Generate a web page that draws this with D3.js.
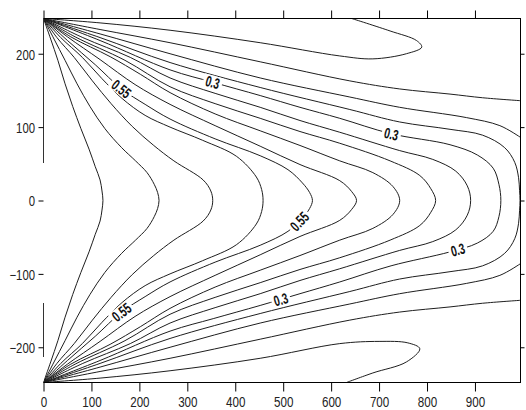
<!DOCTYPE html>
<html>
<head>
<meta charset="utf-8">
<script src="https://cdn.jsdelivr.net/npm/d3@7"></script>
<style>
  body { margin: 0; background: #fff; }
  svg { display: block; }
</style>
</head>
<body>
<div id="chart"></div>
<script>
// tick values
const xTicks = [0, 100, 200, 300, 400, 500, 600, 700, 800, 900];
const yTicks = [-200, -100, 0, 100, 200];

// contour lines, [x, y] in data units
const c075 = [[0,248],[15,220],[30,191],[45,159],[61,128],[78,98],[95,70],[108,46],[118,28],[122,13],[124,0],
  [122,-13],[118,-28],[108,-46],[95,-70],[78,-98],[61,-128],[45,-159],[30,-191],[15,-220],[0,-248]];
const c070 = [[0,248],[22,220],[45,191],[70,159],[97,128],[128,98],[163,72],[192,54],[216,38],[231,22],[238,11],[241,0],
  [238,-11],[231,-22],[216,-38],[192,-54],[163,-72],[128,-98],[97,-128],[70,-159],[45,-191],[22,-220],[0,-248]];
const c065 = [[0,248],[28,222],[64,195],[102,163],[141,132],[185,101],[230,75],[272,54],[333,28],[349,13],[353,0],
  [349,-13],[333,-28],[272,-54],[230,-75],[185,-101],[141,-132],[102,-163],[64,-195],[28,-222],[0,-248]];
const c060 = [[0,248],[36,222],[81,195],[122,166],[164,139],[212,116],[264,100],[332,82],[403,60],[444,32],[455,15],[458,0],
  [455,-15],[444,-32],[403,-60],[332,-82],[264,-100],[212,-116],[164,-139],[122,-166],[81,-195],[36,-222],[0,-248]];
const c055 = [[0,248],[50,218],[108,185],[163,152],[212,131],[264,111],[358,84],[452,61],[510,42],[540,24],[555,11],[561,0],
  [555,-11],[540,-24],[510,-42],[452,-61],[358,-84],[264,-111],[212,-131],[163,-152],[108,-185],[50,-218],[0,-248]];
const c050 = [[0,248],[50,223],[118,192],[191,158],[264,131],[358,102],[452,74],[535,49],[618,27],[643,12],[653,0],
  [643,-12],[618,-27],[535,-49],[452,-74],[358,-102],[264,-131],[191,-158],[118,-192],[50,-223],[0,-248]];
const c045 = [[0,248],[57,223],[139,196],[202,172],[264,147],[358,118],[452,95],[535,75],[618,54],[687,38],[729,19],[743,0],
  [729,-19],[687,-38],[618,-54],[535,-75],[452,-95],[358,-118],[264,-147],[202,-172],[139,-196],[57,-223],[0,-248]];
const c040 = [[0,248],[66,223],[170,191],[264,155],[358,132],[452,112],[535,94],[618,78],[723,54],[785,34],[808,16],[818,0],
  [808,-16],[785,-34],[723,-54],[618,-78],[535,-94],[452,-112],[358,-132],[264,-155],[170,-191],[66,-223],[0,-248]];
const c035 = [[0,248],[82,222],[181,195],[264,167],[358,146],[452,127],[535,109],[618,93],[743,68],[812,56],[860,40],[884,20],[891,0],
  [884,-20],[860,-40],[812,-56],[743,-68],[618,-93],[535,-109],[452,-127],[358,-146],[264,-167],[181,-195],[82,-222],[0,-248]];
const c030 = [[0,248],[118,218],[264,178],[354,161],[452,143],[535,127],[618,112],[725,91],[848,76],[905,62],[938,44],[950,22],[954,0],
  [950,-22],[938,-42],[905,-58],[848,-70],[725,-89],[618,-111],[535,-127],[452,-143],[354,-161],[264,-178],[118,-218],[0,-248]];
const c025 = [[0,248],[118,222],[264,188],[452,154],[639,124],[743,107],[848,97],[916,89],[962,72],[983,52],[991,31],[993,14],[994,0],
  [993,-14],[991,-31],[983,-52],[962,-72],[916,-89],[848,-97],[743,-107],[639,-124],[452,-154],[264,-188],[118,-222],[0,-248]];
const c020top = [[0,248],[118,227],[264,200],[452,167],[639,141],[743,127],[882,113],[952,102],[995,86]];
const c020bot = [[0,-248],[118,-227],[264,-200],[452,-167],[639,-141],[743,-127],[882,-113],[952,-102],[995,-86]];
const c015top = [[0,248],[118,233],[264,215],[452,189],[639,163],[743,152],[848,145],[916,140],[995,136]];
const c015bot = [[0,-248],[118,-233],[264,-215],[452,-189],[639,-163],[743,-152],[848,-145],[916,-140],[995,-136]];
const c010top = [[0,248],[118,242],[264,232],[452,215],[618,197],[687,193],[757,200],[789,209],[778,218],[723,231],[643,248]];
const c010bot = [[0,-248],[118,-242],[264,-232],[452,-215],[618,-195],[700,-192],[760,-194],[785,-202],[757,-220],[687,-235],[632,-248]];

// contour labels: text and where it sits
const labelText = ["0.55", "0.3", "0.3", "0.55", "0.55", "0.3", "0.3"];
const labelX = [163, 353, 725, 528, 163, 493, 864];
const labelY = [152, 161, 91, -24, -153, -131, -64];

// parts of the left edge that show in the picture
const leftEdge = [[248, 51], [-140, -213]];

const contours = [c075, c070, c065, c060, c055, c050, c045, c040, c035, c030, c025,
  c020top, c020bot, c015top, c015bot, c010top, c010bot];

const W = 526, H = 410;
const font = "'Liberation Sans', Arial, sans-serif";
const svg = d3.select("#chart").append("svg")
    .attr("width", W)
    .attr("height", H);

const x = d3.scaleLinear().domain([0, 995]).range([43.5, 520.5]);
const y = d3.scaleLinear().domain([-248, 248]).range([382.5, 18.5]);

svg.append("defs").append("clipPath").attr("id", "plot")
  .append("rect")
    .attr("x", x(0)).attr("y", y(248))
    .attr("width", x(995) - x(0)).attr("height", y(-248) - y(248));

const line = d3.line()
    .x(d => x(d[0]))
    .y(d => y(d[1]))
    .curve(d3.curveCatmullRom.alpha(0.5));

const gLines = svg.append("g").attr("clip-path", "url(#plot)");
const paths = gLines.selectAll("path")
  .data(contours)
  .enter()
  .append("path")
    .attr("d", line)
    .attr("fill", "none")
    .attr("stroke", "#1e1e1e")
    .attr("stroke-width", 1);

// labels sit on the nearest contour, turned along it
const gLab = svg.append("g");
labelText.forEach((t, i) => {
  const px = x(labelX[i]), py = y(labelY[i]);
  let best = null;
  paths.each(function() {
    const len = this.getTotalLength();
    for (let l = 0; l <= len; l += 1) {
      const p = this.getPointAtLength(l);
      const dd = (p.x - px) ** 2 + (p.y - py) ** 2;
      if (!best || dd < best.dd) best = { dd, l, node: this, p };
    }
  });
  const a = best.node.getPointAtLength(Math.max(0, best.l - 4));
  const b = best.node.getPointAtLength(best.l + 4);
  let ang = Math.atan2(b.y - a.y, b.x - a.x) * 180 / Math.PI;
  if (ang > 90) ang -= 180;
  if (ang < -90) ang += 180;

  const g = gLab.append("g")
      .attr("transform", `translate(${best.p.x},${best.p.y}) rotate(${ang})`);
  const rect = g.append("rect").attr("fill", "#fff");
  const txt = g.append("text")
      .attr("transform", "scale(0.68,1)")
      .attr("text-anchor", "middle")
      .attr("dy", "0.36em")
      .style("font-family", font)
      .style("font-size", "15px")
      .style("font-weight", "bold")
      .style("fill", "#111")
      .text(t);
  const w = txt.node().getComputedTextLength() * 0.68 + 5;
  rect.attr("x", -w / 2).attr("y", -6.5).attr("width", w).attr("height", 13);
});

// frame: top, right, bottom, and what shows of the left edge
const frame = svg.append("g")
    .attr("stroke", "#000")
    .attr("fill", "none")
    .attr("shape-rendering", "crispEdges");
frame.append("path")
    .attr("d", `M${x(0)},${y(248)}H${x(995)}V${y(-248)}H${x(0)}`);
frame.selectAll(".left")
  .data(leftEdge)
  .enter()
  .append("line")
    .attr("x1", x(0)).attr("x2", x(0))
    .attr("y1", d => y(d[0])).attr("y2", d => y(d[1]))
    .attr("stroke", "#333");

// axes
const fmt = d3.format("d");
const gx = svg.append("g")
    .attr("transform", `translate(0,${y(-248)})`)
    .call(d3.axisBottom(x).tickValues(xTicks).tickSize(9).tickFormat(fmt));
gx.selectAll("text")
    .attr("y", 24.5).attr("dy", 0)
    .attr("transform", "scale(0.75,1)")
    .style("font-size", "15.5px");

const gxt = svg.append("g")
    .attr("transform", `translate(0,${y(248)})`)
    .call(d3.axisTop(x).tickValues(xTicks).tickSize(8).tickFormat(""));

const gy = svg.append("g")
    .attr("transform", `translate(${x(0)},0)`)
    .call(d3.axisLeft(y).tickValues(yTicks).tickSize(5).tickFormat(fmt));
gy.selectAll("text")
    .attr("x", -10.5).attr("dy", "0.38em")
    .attr("transform", "scale(0.81,1)")
    .style("font-size", "14px");

const gyr = svg.append("g")
    .attr("transform", `translate(${x(995)},0)`)
    .call(d3.axisRight(y).tickValues(yTicks).tickSize(4).tickFormat(""));

[gx, gxt, gy, gyr].forEach(g => {
  g.select(".domain").remove();
  g.selectAll("line").attr("stroke", "#000");
  g.selectAll("text")
      .style("font-family", font)
      .style("fill", "#222");
});
</script>
</body>
</html>
